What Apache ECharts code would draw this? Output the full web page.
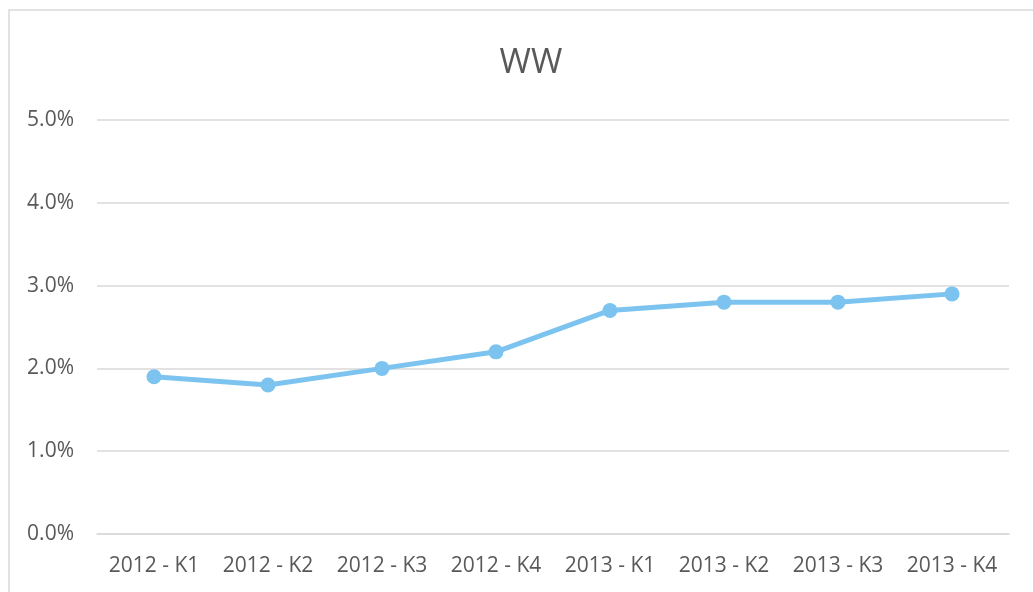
<!DOCTYPE html>
<html>
<head>
<meta charset="utf-8">
<script src="https://cdn.jsdelivr.net/npm/echarts@6/dist/echarts.min.js"></script>
<style>
  html, body { margin: 0; padding: 0; background: #fff; }
  #chart { width: 1033px; height: 592px; }
</style>
</head>
<body>
<div id="chart"></div>
<script>
const categories = ['2012 - K1', '2012 - K2', '2012 - K3', '2012 - K4', '2013 - K1', '2013 - K2', '2013 - K3', '2013 - K4']
const wwValues = [1.9, 1.8, 2.0, 2.2, 2.7, 2.8, 2.8, 2.9]
const yTicks = [0, 1, 2, 3, 4, 5]

const font = '"Open Sans", "Noto Sans", sans-serif'
const textColor = '#595959'

const chart = echarts.init(document.getElementById('chart'), null, { renderer: 'canvas' })

chart.setOption({
  animation: false,
  backgroundColor: '#fff',
  graphic: [{
    type: 'rect',
    shape: { x: 9, y: 10, width: 1040, height: 600 },
    style: { fill: 'none', stroke: '#d9d9d9', lineWidth: 1.5 },
    silent: true
  }],
  title: {
    text: 'WW',
    left: 526,
    top: 41,
    textAlign: 'center',
    textStyle: { fontFamily: font, fontSize: 34, fontWeight: 'normal', color: textColor }
  },
  grid: { left: 97, right: 24, top: 120, bottom: 58 },
  xAxis: {
    type: 'category',
    data: categories,
    boundaryGap: true,
    axisLine: { show: true, lineStyle: { color: '#d9d9d9', width: 1.5 } },
    axisTick: { show: false },
    axisLabel: { fontFamily: font, fontSize: 21, color: textColor, margin: 22, interval: 0 }
  },
  yAxis: {
    type: 'value',
    min: yTicks[0],
    max: yTicks[yTicks.length - 1],
    interval: 1,
    axisLine: { show: false },
    axisTick: { show: false },
    splitLine: { lineStyle: { color: '#d9d9d9', width: 1.5 } },
    axisLabel: {
      fontFamily: font, fontSize: 21, color: textColor, margin: 23,
      formatter: v => v.toFixed(1) + '%'
    }
  },
  series: [{
    name: 'WW',
    type: 'line',
    data: wwValues,
    symbol: 'circle',
    symbolSize: 15,
    lineStyle: { color: '#7cc4ef', width: 5 },
    itemStyle: { color: '#7cc4ef' }
  }]
})
</script>
</body>
</html>
